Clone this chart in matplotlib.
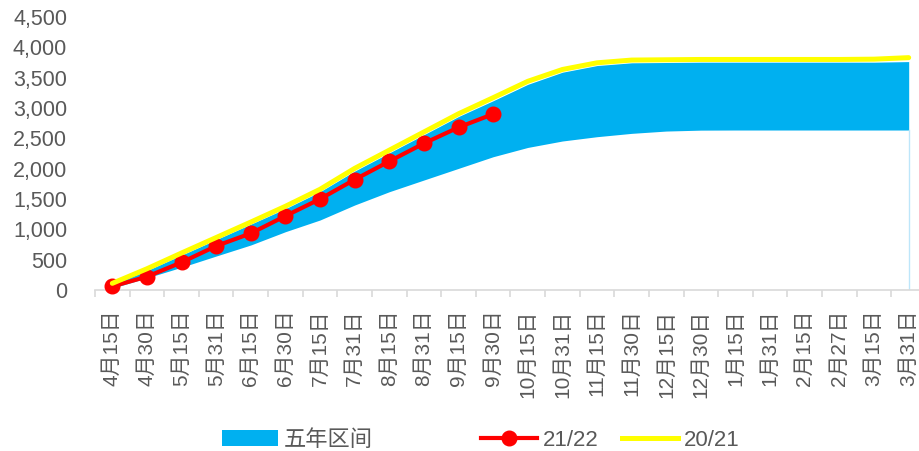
import matplotlib
matplotlib.use("Agg")
import matplotlib.pyplot as plt
from matplotlib.lines import Line2D
from matplotlib.patches import Patch
import numpy as np

plt.rcParams['font.family'] = ['Liberation Sans', 'Noto Sans CJK SC', 'DejaVu Sans']

categories = ["4月15日", "4月30日", "5月15日", "5月31日", "6月15日", "6月30日",
              "7月15日", "7月31日", "8月15日", "8月31日", "9月15日", "9月30日",
              "10月15日", "10月31日", "11月15日", "11月30日", "12月15日", "12月30日",
              "1月15日", "1月31日", "2月15日", "2月27日", "3月15日", "3月31日"]

range_low = [30, 200, 375, 560, 742, 961, 1154, 1401, 1620, 1813, 2005, 2197,
             2350, 2456, 2527, 2582, 2620, 2635, 2637, 2637, 2637, 2637, 2637, 2637]
range_high = [90, 320, 575, 830, 1085, 1340, 1620, 1960, 2260, 2560, 2860, 3120,
              3390, 3590, 3700, 3745, 3750, 3755, 3755, 3755, 3755, 3755, 3755, 3765]
s2122 = [60, 220, 456, 725, 934, 1220, 1500, 1820, 2121, 2417, 2681, 2900]
s2021 = [110, 350, 610, 865, 1120, 1380, 1660, 2005, 2305, 2605, 2905, 3170,
         3440, 3635, 3745, 3790, 3795, 3800, 3800, 3800, 3800, 3800, 3805, 3830]

BLUE = '#00B0F0'
RED = '#FF0000'
YELLOW = '#FFFF00'
GRAY = '#595959'
AXIS = '#D9D9D9'

W, H = 920, 451
fig = plt.figure(figsize=(W / 100, H / 100), dpi=100)
left, right_px, top_px, bottom_px = 95, 926, 17, 290
ax = fig.add_axes([left / W, 1 - bottom_px / H, (right_px - left) / W, (bottom_px - top_px) / H])

x = np.arange(len(categories))
ax.fill_between(x, range_low, range_high, color=BLUE, linewidth=0, zorder=1)
ax.plot([x[-1], x[-1]], [0, range_low[-1]], color='#BDE6FA', lw=1, zorder=1)
ax.plot(x[:len(s2122)], s2122, color=RED, lw=3, marker='o', markersize=10.5, zorder=3,
        clip_on=False)
ax.plot(x, s2021, color=YELLOW, lw=3.6, zorder=4, solid_capstyle='round', clip_on=False)

ax.set_xlim(-0.5, len(categories) - 0.5)
ax.set_ylim(0, 4500)
ax.set_yticks(np.arange(0, 4501, 500))
ax.set_yticklabels([f"{v:,}" for v in range(0, 4501, 500)])

ax.set_xticks(x)
ax.set_xticklabels(categories, rotation=90, va='top', ha='center')
ax.set_xticks(np.arange(-0.5, len(categories), 1), minor=True)

for s in ['top', 'right', 'left']:
    ax.spines[s].set_visible(False)
ax.spines['bottom'].set_color(AXIS)
ax.spines['bottom'].set_linewidth(1.2)

ax.tick_params(axis='y', length=0, pad=20, labelsize=15.5, labelcolor=GRAY)
ax.tick_params(axis='x', which='major', length=0, pad=14, labelsize=15, labelcolor=GRAY)
ax.tick_params(axis='x', which='minor', length=5, width=1.2, color=AXIS)

# legend (three separate entries positioned like the original)
fs = 16
h1 = Patch(facecolor=BLUE, edgecolor='none')
h2 = Line2D([], [], color=RED, lw=3, marker='o', markersize=10.5)
h3 = Line2D([], [], color=YELLOW, lw=3.6)
ly = 1 - 440 / H
for h, lab, xpx in [(h1, "五年区间", 222), (h2, "21/22", 481), (h3, "20/21", 622)]:
    leg = fig.legend([h], [lab], loc='center left', bbox_to_anchor=(xpx / W, ly),
                     frameon=False, fontsize=fs, handlelength=2.5, handleheight=0.7,
                     handletextpad=0.3, borderpad=0, borderaxespad=0)
    for t in leg.get_texts():
        t.set_color(GRAY)

fig.savefig("out.png", dpi=100)
